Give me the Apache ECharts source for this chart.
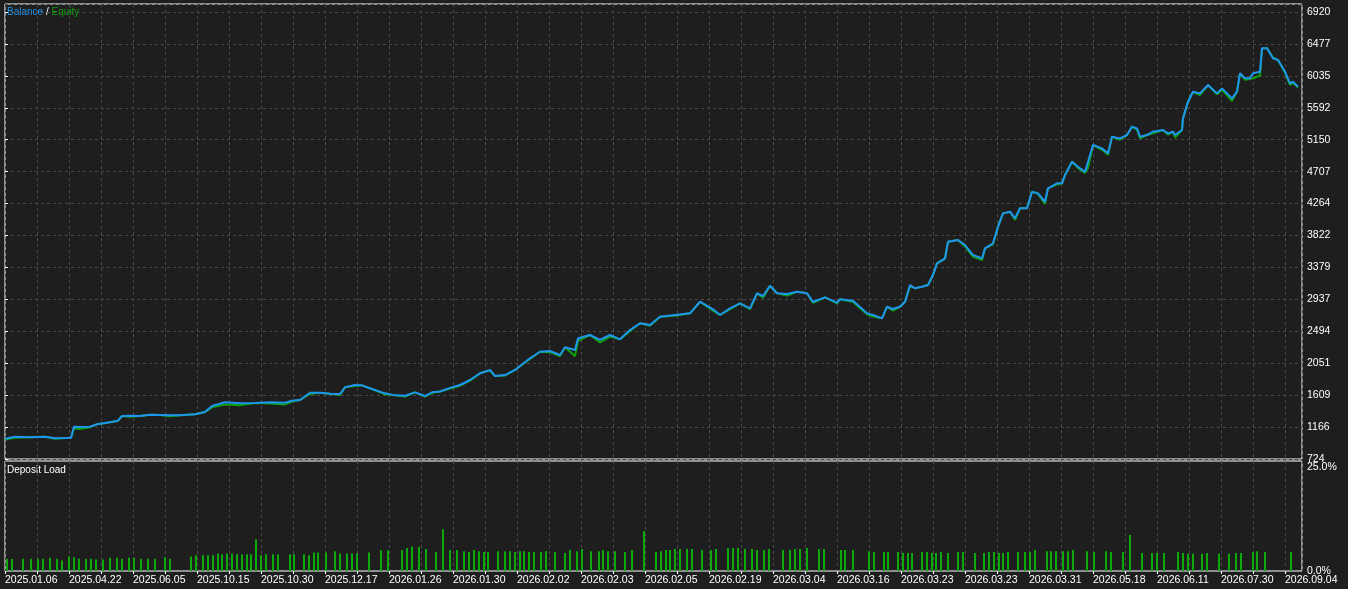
<!DOCTYPE html>
<html><head><meta charset="utf-8">
<script src="https://cdn.jsdelivr.net/npm/echarts@6/dist/echarts.min.js"></script>
<style>html,body{margin:0;padding:0;background:#1e1e1e;}#c{width:1348px;height:589px;}</style>
</head><body><div id="c"></div>
<script>
// x = deal position index (0..1297)
const balX = [0,10,25,40,50,60,66,69,75,85,92,105,113,117,125,135,145,155,165,175,190,200,207,220,235,250,265,280,287,295,305,315,325,335,340,350,357,367,380,390,400,410,420,427,435,445,455,465,475,485,490,500,510,525,535,545,555,560,570,573,585,595,605,615,625,635,645,655,670,685,695,708,715,725,735,745,752,758,765,772,782,792,802,808,820,832,835,848,862,868,877,882,888,895,900,905,910,917,923,928,932,940,943,953,960,968,977,980,988,993,998,1005,1010,1015,1022,1027,1033,1040,1043,1052,1057,1060,1067,1073,1080,1083,1088,1097,1103,1107,1115,1122,1127,1132,1135,1142,1148,1158,1163,1168,1170,1177,1178,1183,1188,1195,1203,1212,1217,1227,1232,1235,1240,1245,1248,1255,1257,1262,1268,1273,1280,1285,1288,1293];
const balV = [1005,1033,1024,1033,1011,1015,1018,1172,1167,1172,1205,1233,1255,1320,1325,1320,1338,1334,1329,1329,1343,1375,1459,1510,1496,1500,1510,1505,1532,1542,1643,1643,1629,1624,1718,1750,1745,1694,1634,1606,1601,1648,1597,1648,1660,1710,1750,1819,1912,1958,1874,1888,1958,2120,2211,2221,2165,2272,2235,2397,2443,2374,2443,2383,2512,2605,2581,2697,2720,2743,2904,2799,2720,2813,2882,2813,3021,2983,3126,3021,3011,3043,3021,2904,2965,2891,2938,2918,2743,2720,2674,2835,2803,2835,2904,3136,3090,3112,3136,3274,3436,3505,3736,3760,3690,3551,3505,3644,3713,3944,4129,4152,4060,4199,4199,4429,4406,4290,4476,4545,4545,4660,4845,4775,4706,4845,5076,5030,4961,5191,5168,5215,5330,5307,5191,5215,5261,5284,5238,5261,5215,5284,5446,5676,5815,5792,5908,5792,5861,5723,5815,6070,6001,6001,6070,6093,6417,6417,6278,6255,6093,5931,5954,5885];
const eqV = [995,1020,1024,1033,1005,1015,1018,1150,1140,1165,1205,1233,1255,1320,1310,1320,1338,1334,1315,1329,1343,1375,1440,1480,1470,1500,1495,1480,1520,1542,1625,1643,1629,1610,1718,1735,1745,1694,1620,1606,1590,1648,1590,1640,1660,1700,1740,1810,1912,1950,1874,1880,1958,2110,2211,2205,2150,2272,2150,2360,2443,2340,2420,2383,2500,2605,2570,2697,2710,2743,2904,2780,2720,2800,2882,2800,3021,2960,3126,3021,2990,3043,3021,2890,2965,2880,2938,2900,2730,2700,2674,2835,2780,2835,2904,3120,3090,3112,3136,3274,3436,3500,3736,3760,3670,3530,3480,3644,3700,3944,4129,4152,4040,4199,4199,4429,4400,4260,4476,4530,4545,4660,4845,4760,4690,4760,5076,5010,4940,5191,5150,5215,5330,5290,5170,5215,5240,5284,5220,5261,5180,5284,5446,5676,5815,5770,5908,5780,5840,5690,5815,6070,5980,5990,6000,6040,6417,6417,6290,6255,6080,5910,5940,5875];
const loadX = [2,7,18,26,33,38,45,52,57,64,69,74,81,86,91,98,105,112,117,124,129,136,143,150,160,165,186,191,198,203,208,213,217,222,227,232,237,242,246,251,256,261,268,273,285,289,299,304,309,313,321,330,335,342,347,352,364,376,383,
  397,402,407,414,421,431,438,445,452,459,464,469,474,479,483,493,500,505,510,515,519,524,529,536,541,550,560,565,572,577,586,594,598,603,610,620,627,639,651,656,661,665,670,675,682,687,697,706,711,723,728,733,740,747,752,759,764,778,785,790,795,802,814,819,
  836,840,848,864,869,879,883,893,898,903,907,917,922,927,931,936,943,953,958,970,979,984,989,994,998,1003,1013,1020,1025,1030,1042,1046,1051,1058,1063,1068,1082,1089,1101,1106,1118,1125,1137,1147,1152,1159,1173,1178,1183,1188,1197,1202,1214,1224,1231,1236,1248,1252,1260,1286];
const loadPct = [2.7,2.7,2.8,2.8,2.8,2.8,3.0,2.8,2.4,3.3,3.1,2.8,2.8,2.8,2.6,2.6,3.0,3.0,2.8,3.0,3.0,2.8,2.8,2.8,3.1,2.8,3.3,3.6,3.6,3.6,3.6,4.0,3.8,4.0,4.0,3.8,3.8,3.8,3.8,7.2,3.6,3.8,3.8,3.8,3.8,3.8,3.8,3.6,4.2,4.2,4.2,4.5,4.0,4.0,4.0,4.0,4.2,4.7,4.7,
  4.8,5.2,5.5,5.5,5.0,4.3,9.5,4.8,4.8,4.5,4.3,4.8,4.5,4.3,4.3,4.5,4.5,4.5,4.3,4.5,4.5,4.3,4.3,4.3,4.5,4.3,4.1,4.8,4.5,5.0,4.5,4.5,4.8,4.5,4.5,4.3,4.8,9.1,4.3,4.5,4.8,4.8,5.0,5.0,5.0,5.0,4.8,4.8,5.0,5.2,5.2,5.2,5.0,5.0,4.8,4.8,5.0,4.8,4.8,5.0,5.0,5.2,5.0,5.0,
  4.8,4.8,4.8,4.5,4.3,4.3,4.3,4.3,4.1,4.1,4.1,4.3,4.3,4.1,4.1,4.3,4.1,4.3,4.3,4.1,4.1,4.3,4.3,4.1,4.1,4.3,4.3,4.3,4.3,4.8,4.5,4.5,4.5,4.5,4.5,4.8,4.5,4.3,4.5,4.3,4.3,8.2,4.1,4.1,4.1,4.1,4.3,4.1,3.9,3.9,3.9,4.1,3.9,3.9,4.1,4.1,4.3,4.5,4.3,4.3];
const dateLabels = ['2025.01.06','2025.04.22','2025.06.05','2025.10.15','2025.10.30','2025.12.17','2026.01.26','2026.01.30','2026.02.02','2026.02.03','2026.02.05','2026.02.19','2026.03.04','2026.03.16','2026.03.23','2026.03.23','2026.03.31','2026.05.18','2026.06.11','2026.07.30','2026.09.04'];
const yLabels = ['724','1166','1609','2051','2494','2937','3379','3822','4264','4707','5150','5592','6035','6477','6920'];

const FONT = 'Liberation Sans';
const dash = {color:'#4a4a4a', type:[3,3], width:1};
const chart = echarts.init(document.getElementById('c'));
const xCommon = {type:'value', min:0, max:1297, interval:32,
  axisLine:{show:false}, splitLine:{show:true, lineStyle:dash}};
chart.setOption({
  backgroundColor:'#1e1e1e', animation:false,
  grid:[
    {left:5, right:46, top:4, height:455, show:true, borderColor:'#ffffff', borderWidth:1, backgroundColor:'transparent'},
    {left:5, right:46, top:461, bottom:18, show:true, borderColor:'#ffffff', borderWidth:1, backgroundColor:'transparent'}
  ],
  xAxis:[
    Object.assign({gridIndex:0, axisTick:{show:false}, axisLabel:{show:false}}, xCommon),
    Object.assign({gridIndex:1, axisTick:{show:true, length:3, lineStyle:{color:'#fff'}},
      axisLabel:{show:true, color:'#fff', fontFamily:FONT, fontSize:10.5, align:'left', margin:4, showMaxLabel:false,
        formatter:v => (v % 64 === 0) ? dateLabels[v/64] : ''}}, xCommon)
  ],
  yAxis:[
    {gridIndex:0, type:'value', position:'right', min:724, max:7031, interval:442.57,
      axisLine:{show:false}, axisTick:{show:true, length:3, lineStyle:{color:'#fff'}},
      splitLine:{show:true, lineStyle:dash},
      axisLabel:{color:'#fff', fontFamily:FONT, fontSize:10.5, margin:5, showMaxLabel:false,
        formatter:v => { const i = Math.round((v-724)/442.57); return i < yLabels.length ? yLabels[i] : ''; }}},
    {gridIndex:1, type:'value', position:'right', min:0, max:25, interval:25,
      axisLine:{show:false}, axisTick:{show:false}, splitLine:{show:false},
      axisLabel:{color:'#fff', fontFamily:FONT, fontSize:10.5, margin:5,
        formatter:v => v === 25 ? '{a|25.0%}' : '0.0%', rich:{a:{padding:[12,0,0,0], color:'#fff', fontFamily:FONT, fontSize:10.5}}}}
  ],
  series:[
    {type:'line', xAxisIndex:0, yAxisIndex:0, data:balX.map((x,i)=>[x,eqV[i]]), showSymbol:false,
      lineStyle:{color:'#0ca00c', width:2}, z:2},
    {type:'line', xAxisIndex:0, yAxisIndex:0, data:balX.map((x,i)=>[x,balV[i]]), showSymbol:false,
      lineStyle:{color:'#1e96f0', width:2}, z:3},
    {type:'bar', xAxisIndex:1, yAxisIndex:1, data:loadX.map((x,i)=>[x,loadPct[i]]), barWidth:2,
      itemStyle:{color:'#0aaa0a'}}
  ],
  graphic:[
    {type:'text', left:7, top:7, style:{rich:{b:{fill:'#1e96f0'},s:{fill:'#fff'},e:{fill:'#0ca00c'}},
      text:'{b|Balance} {s|/} {e|Equity}', font:'10px '+FONT}},
    {type:'text', left:7, top:465, style:{text:'Deposit Load', fill:'#fff', font:'10px '+FONT}}
  ]
});
</script></body></html>
